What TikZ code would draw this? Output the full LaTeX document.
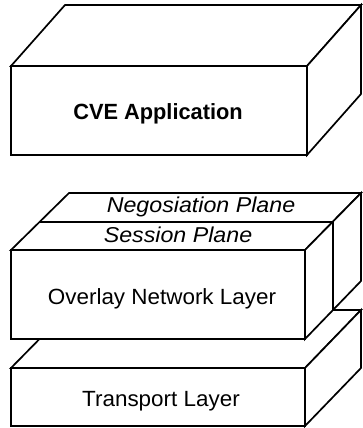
\documentclass[tikz,border=0pt]{standalone}
\usepackage{fontspec}
\setmainfont{Liberation Sans}
\newfontfamily\regf[FakeStretch=1.02]{Liberation Sans}
\newfontfamily\boldf[FakeStretch=0.99]{Liberation Sans Bold}
\newfontfamily\itf[FakeStretch=1.08]{Liberation Sans Italic}
\begin{document}
\begin{tikzpicture}[x=1pt,y=-1pt,
  face/.style={draw=black,fill=white,line width=1.7pt,line join=miter},
  edge/.style={draw=black,line width=1.7pt},
  lbl/.style={anchor=base,inner sep=0pt,font=\regf\fontsize{22}{25}\selectfont},
  blbl/.style={lbl,font=\boldf\fontsize{22}{25}\selectfont},
  ilbl/.style={lbl,font=\itf\fontsize{21.5}{25}\selectfont}]
\useasboundingbox (0,0) rectangle (362,428);
% ---------- CVE Application box ----------
\coordinate (a1) at (11,66);  \coordinate (a2) at (307,66);
\coordinate (a3) at (307,155); \coordinate (a4) at (11,155);
\coordinate (a5) at (65,5);   \coordinate (a6) at (361,5);
\coordinate (a7) at (361,94);
\path[face] (a1) -- (a5) -- (a6) -- (a2) -- cycle;
\path[face] (a2) -- (a6) -- (a7) -- (a3) -- cycle;
\path[face] (a1) rectangle (a3);
\node[blbl] (cve) at (158,119) {CVE Application};
% ---------- Transport layer ----------
\coordinate (t1) at (11,368);  \coordinate (t2) at (305,368);
\coordinate (t3) at (305,426); \coordinate (t4) at (11,426);
\coordinate (t5) at (68,310);  \coordinate (t6) at (361,310);
\coordinate (t7) at (361,368);
\path[face] (t1) -- (t5) -- (t6) -- (t2) -- cycle;
\path[face] (t2) -- (t6) -- (t7) -- (t3) -- cycle;
\path[face] (t1) rectangle (t3);
\node[lbl] (tl) at (161,406.5) {Transport Layer};
% ---------- Overlay network layer with planes ----------
\coordinate (o1) at (11,250);  \coordinate (o2) at (305,250);
\coordinate (o3) at (305,339); \coordinate (o4) at (11,339);
\coordinate (s1) at (40,222);  \coordinate (s2) at (333,222);
\coordinate (s3) at (333,310);
\coordinate (n1) at (69,193);  \coordinate (n2) at (361,193);
\coordinate (n3) at (361,281);
\path[face] (o1) -- (n1) -- (n2) -- (o2) -- cycle;
\path[face] (o2) -- (n2) -- (n3) -- (o3) -- cycle;
\draw[edge] (s1) -- (s2) -- (s3);
\path[face] (o1) rectangle (o3);
\node[lbl] (ol) at (162,304) {Overlay Network Layer};
\node[ilbl] (np) at (201,212) {Negosiation Plane};
\node[ilbl] (sp) at (178,242.5) {Session Plane};
\end{tikzpicture}
\end{document}
